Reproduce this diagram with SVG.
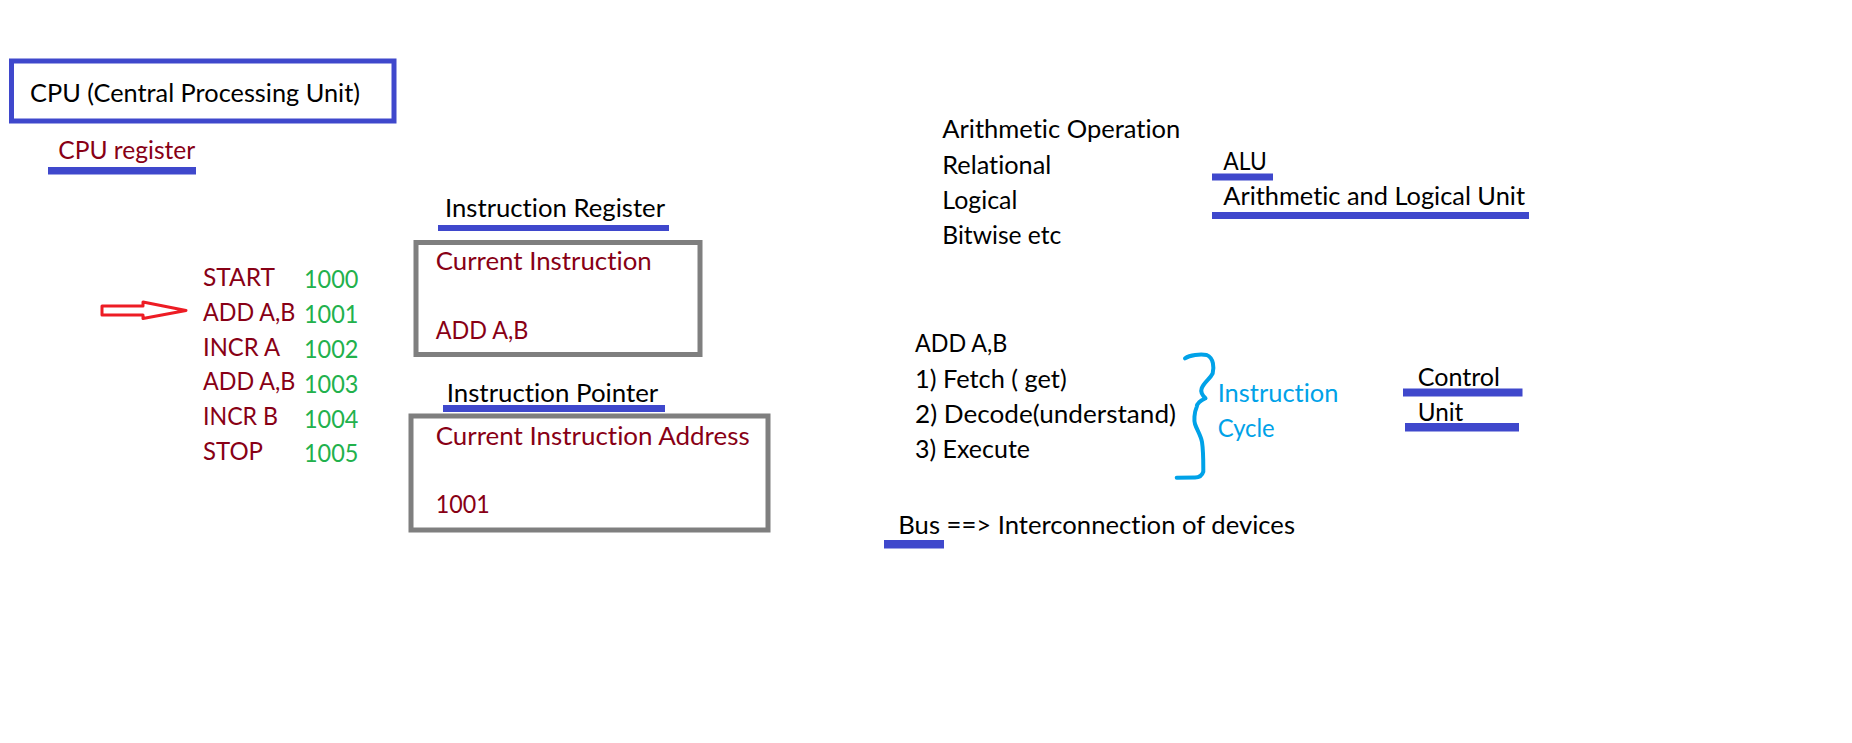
<svg xmlns="http://www.w3.org/2000/svg" width="1852" height="743" viewBox="0 0 1852 743">
<style>
text{font-family:Lato,"Open Sans","Liberation Sans",sans-serif;font-size:25px;fill:#000;font-variant-ligatures:none}
.dr{fill:#880015}
.gr{fill:#22B14C}
.cy{fill:#00A2E8}
.ul{fill:#3F48CC}
.box{fill:none;stroke:#7F7F7F;stroke-width:5}
</style>
<rect width="1852" height="743" fill="#fff"/>
<g id="cpu">
<rect x="11.5" y="61" width="382.5" height="60" fill="none" stroke="#3F48CC" stroke-width="5"/>
<text x="30" y="101.7" textLength="330" lengthAdjust="spacingAndGlyphs">CPU (Central Processing Unit)</text>
</g>
<g id="cpu-register">
<text class="dr" x="58.3" y="159.3" textLength="137" lengthAdjust="spacingAndGlyphs">CPU register</text>
<rect class="ul" x="48" y="167" width="148" height="7.5"/>
</g>
<g id="program">
<text class="dr" x="203" y="286" textLength="72" lengthAdjust="spacingAndGlyphs">START</text>
<text class="dr" x="203" y="320.7" textLength="92.3" lengthAdjust="spacingAndGlyphs">ADD A,B</text>
<text class="dr" x="203" y="356" textLength="77" lengthAdjust="spacingAndGlyphs">INCR A</text>
<text class="dr" x="203" y="390" textLength="92.3" lengthAdjust="spacingAndGlyphs">ADD A,B</text>
<text class="dr" x="203" y="425" textLength="75" lengthAdjust="spacingAndGlyphs">INCR B</text>
<text class="dr" x="203" y="460" textLength="60" lengthAdjust="spacingAndGlyphs">STOP</text>
<text class="gr" x="304" y="288.3" textLength="54.5" lengthAdjust="spacingAndGlyphs">1000</text>
<text class="gr" x="304" y="322.7" textLength="54.5" lengthAdjust="spacingAndGlyphs">1001</text>
<text class="gr" x="304" y="357.7" textLength="54.5" lengthAdjust="spacingAndGlyphs">1002</text>
<text class="gr" x="304" y="392.7" textLength="54.5" lengthAdjust="spacingAndGlyphs">1003</text>
<text class="gr" x="304" y="427.7" textLength="54.5" lengthAdjust="spacingAndGlyphs">1004</text>
<text class="gr" x="304" y="461.7" textLength="54.5" lengthAdjust="spacingAndGlyphs">1005</text>
</g>
<g id="instruction-register">
<text x="445" y="217.3" textLength="220" lengthAdjust="spacingAndGlyphs">Instruction Register</text>
<rect class="ul" x="438" y="225" width="231" height="6"/>
<rect class="box" x="416" y="242.5" width="284" height="112"/>
<text class="dr" x="435.7" y="270" textLength="216" lengthAdjust="spacingAndGlyphs">Current Instruction</text>
<text class="dr" x="435.7" y="339.3" textLength="92.6" lengthAdjust="spacingAndGlyphs">ADD A,B</text>
</g>
<g id="instruction-pointer">
<text x="446.7" y="402.3" textLength="211.6" lengthAdjust="spacingAndGlyphs">Instruction Pointer</text>
<rect class="ul" x="443" y="405" width="222" height="7"/>
<rect class="box" x="411" y="416" width="357" height="114"/>
<text class="dr" x="435.7" y="445" textLength="314" lengthAdjust="spacingAndGlyphs">Current Instruction Address</text>
<text class="dr" x="435.7" y="513.3" textLength="54" lengthAdjust="spacingAndGlyphs">1001</text>
</g>
<g id="operations">
<text x="942.3" y="138.3" textLength="238" lengthAdjust="spacingAndGlyphs">Arithmetic Operation</text>
<text x="942.3" y="173.5" textLength="109" lengthAdjust="spacingAndGlyphs">Relational</text>
<text x="942.3" y="208.7" textLength="75" lengthAdjust="spacingAndGlyphs">Logical</text>
<text x="942.3" y="243.9" textLength="119" lengthAdjust="spacingAndGlyphs">Bitwise etc</text>
</g>
<g id="alu">
<text x="1223.3" y="170" textLength="43.4" lengthAdjust="spacingAndGlyphs">ALU</text>
<rect class="ul" x="1212" y="173.5" width="61" height="7"/>
<text x="1223.3" y="205" textLength="301.7" lengthAdjust="spacingAndGlyphs">Arithmetic and Logical Unit</text>
<rect class="ul" x="1212" y="212" width="317" height="7"/>
</g>
<g id="instruction-cycle">
<text x="915" y="352.3" textLength="92.3" lengthAdjust="spacingAndGlyphs">ADD A,B</text>
<text x="915" y="387.5" textLength="151.7" lengthAdjust="spacingAndGlyphs">1) Fetch ( get)</text>
<text x="915" y="422.7" textLength="261" lengthAdjust="spacingAndGlyphs">2) Decode(understand)</text>
<text x="915" y="457.9" textLength="115" lengthAdjust="spacingAndGlyphs">3) Execute</text>
<path d="M1185,358.3 C1190,355 1200,354 1206.7,355 C1214,358 1214,368 1212.7,373.3 C1210,379 1204,382 1201.7,388.3 C1200,393 1203,396 1205.5,398.3 C1200,401 1197,403 1196.7,407 C1194,413 1194,421 1195,424 C1197,430 1201,436 1202,442 C1203.5,452 1203.3,462 1203.3,471.7 C1202,476 1199,477.5 1195,477.6 L1176.7,477.7" fill="none" stroke="#00A2E8" stroke-width="4" stroke-linecap="round" stroke-linejoin="round"/>
<text class="cy" x="1217.7" y="401.7" textLength="120.7" lengthAdjust="spacingAndGlyphs">Instruction</text>
<text class="cy" x="1217.7" y="436.7" textLength="57" lengthAdjust="spacingAndGlyphs">Cycle</text>
</g>
<g id="control-unit">
<text x="1417.7" y="385.7" textLength="82.3" lengthAdjust="spacingAndGlyphs">Control</text>
<rect class="ul" x="1403" y="388.5" width="119.5" height="8"/>
<text x="1417.7" y="420.7" textLength="45.6" lengthAdjust="spacingAndGlyphs">Unit</text>
<rect class="ul" x="1405" y="423" width="114" height="8.5"/>
</g>
<g id="bus">
<text x="898.3" y="534.3" textLength="396.7" lengthAdjust="spacingAndGlyphs">Bus ==&gt; Interconnection of devices</text>
<rect class="ul" x="884" y="540" width="60" height="8.5"/>
</g>
<g id="connectors">
<path d="M102,306 L143,306 L143,302 L186,310.5 L143,318.5 L143,315 L102,315 Z" fill="none" stroke="#ED1C24" stroke-width="3" stroke-linejoin="round"/>
</g>
</svg>
